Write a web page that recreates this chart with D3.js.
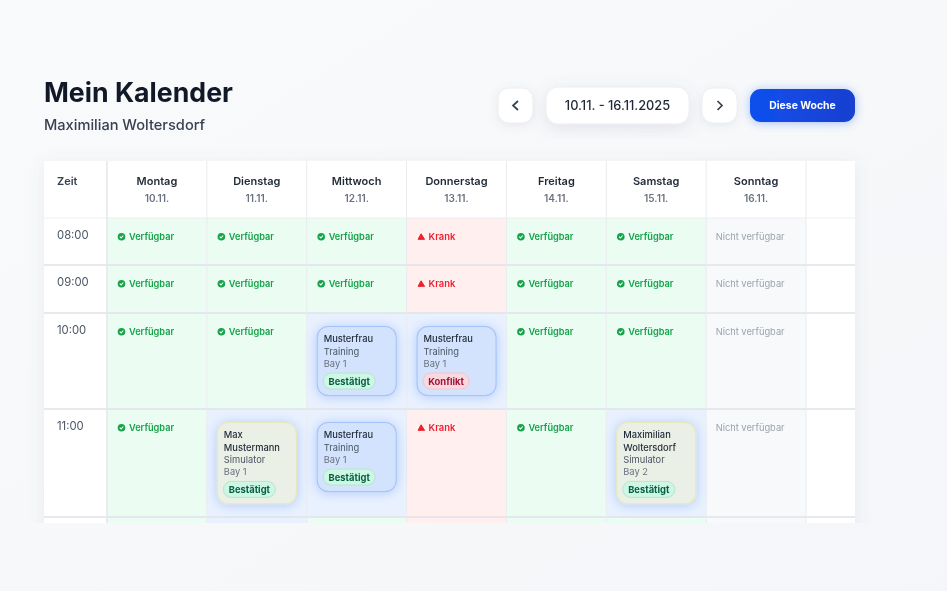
<!DOCTYPE html>
<html lang="de"><head><meta charset="utf-8">
<script src="https://cdn.jsdelivr.net/npm/d3@7"></script>
<style>
html,body{margin:0;padding:0;background:#f8f9fb;overflow:hidden}
svg{display:block;font-family:Inter,"Noto Sans",sans-serif;filter:blur(.25px)}
</style></head><body><svg id="c" width="947" height="591"></svg>
<script>
const title = "Mein Kalender";
const person = "Maximilian Woltersdorf";
const weekRange = "10.11. - 16.11.2025";
const todayLabel = "Diese Woche";
const timeHeader = "Zeit";
const days = ["Montag","Dienstag","Mittwoch","Donnerstag","Freitag","Samstag","Sonntag"];
const dates = ["10.11.","11.11.","12.11.","13.11.","14.11.","15.11.","16.11."];
const times = ["08:00","09:00","10:00","11:00","12:00"];
const A="Verfügbar", K="Krank", N="Nicht verfügbar", B="booked";
const row0800 = [A,A,A,K,A,A,N];
const row0900 = [A,A,A,K,A,A,N];
const row1000 = [A,A,B,B,A,A,N];
const row1100 = [A,B,B,K,A,B,N];
const row1200 = [A,B,A,K,A,A,N];
const rows = [row0800,row0900,row1000,row1100,row1200];
const bookings = [
 {day:"Mittwoch",time:"10:00",name:["Musterfrau"],type:"Training",bay:"Bay 1",state:"Bestätigt",kind:"blue"},
 {day:"Donnerstag",time:"10:00",name:["Musterfrau"],type:"Training",bay:"Bay 1",state:"Konflikt",kind:"blue"},
 {day:"Dienstag",time:"11:00",name:["Max","Mustermann"],type:"Simulator",bay:"Bay 1",state:"Bestätigt",kind:"olive"},
 {day:"Mittwoch",time:"11:00",name:["Musterfrau"],type:"Training",bay:"Bay 1",state:"Bestätigt",kind:"blue"},
 {day:"Samstag",time:"11:00",name:["Maximilian","Woltersdorf"],type:"Simulator",bay:"Bay 2",state:"Bestätigt",kind:"olive"}
];

const T={x0:44,x1:855,y0:161,y1:523,head:218,timeRight:107,dayRight:806};
const rowTops=[218,265,313,409,517], rowEnd=570;
const x=d3.scaleBand().domain(days).range([T.timeRight,T.dayRight]);
const y=d3.scaleOrdinal().domain(times).range(rowTops);
const rowH=t=>{const i=times.indexOf(t);return (rowTops[i+1]||rowEnd)-rowTops[i];};
const svg=d3.select("#c");
const defs=svg.append("defs");
const sh=(id,dy,b,c,o)=>{defs.append("filter").attr("id",id).attr("x","-40%").attr("y","-40%").attr("width","180%").attr("height","180%")
  .append("feDropShadow").attr("dx",0).attr("dy",dy).attr("stdDeviation",b).attr("flood-color",c).attr("flood-opacity",o);};
sh("sTable",3,8,"#64748b",.11);sh("sBtn",2,4,"#64748b",.12);sh("sDate",4,8,"#64748b",.16);sh("sBlue",1,5,"#2563eb",.4);sh("sCard",1,6,"#3b82f6",.36);
const g1=defs.append("linearGradient").attr("id","gBtn");g1.append("stop").attr("offset",0).attr("stop-color","#0f50ee");g1.append("stop").attr("offset",1).attr("stop-color","#1a3fcf");
const bg=defs.append("linearGradient").attr("id","gBg").attr("x2",1).attr("y2",1);bg.append("stop").attr("offset",0).attr("stop-color","#f9fafb");bg.append("stop").attr("offset",1).attr("stop-color","#f5f6f9");
defs.append("clipPath").attr("id","clipT").append("rect").attr("x",T.x0).attr("y",T.y0).attr("width",T.x1-T.x0).attr("height",T.y1-T.y0);
defs.append("clipPath").attr("id","clipS").append("rect").attr("x",0).attr("y",0).attr("width",947).attr("height",T.y1);
svg.append("rect").attr("width",947).attr("height",591).attr("fill","url(#gBg)");

const txt=(p,s,xx,yy,size,w,c,anchor)=>p.append("text").text(s).attr("x",xx).attr("y",yy).attr("font-size",size).attr("font-weight",w).attr("fill",c).attr("text-anchor",anchor||"start").attr("dominant-baseline","central");
txt(svg,title,44,92,26.7,700,"#111827");
txt(svg,person,44,124.5,14.6,500,"#374151");

// controls
const btn=(x0,y0,w,h,r,f)=>svg.append("rect").attr("x",x0).attr("y",y0).attr("width",w).attr("height",h).attr("rx",r).attr("fill",f||"#fff").attr("stroke",f?"none":"#eceef2").attr("filter",f?"url(#sBlue)":(h>36?"url(#sDate)":"url(#sBtn)"));
btn(498,88,35,35,11);btn(546,87,143,37,12);btn(702,88,35,35,11);btn(750,89,105,33,11,"url(#gBtn)");
const chev=d3.line();
svg.append("path").attr("d",chev([[518,101],[513,105.5],[518,110]])).attr("fill","none").attr("stroke","#374151").attr("stroke-width",1.7);
svg.append("path").attr("d",chev([[717.5,101],[722,105.5],[717.5,110]])).attr("fill","none").attr("stroke","#374151").attr("stroke-width",1.7);
txt(svg,weekRange,617.5,105.8,12.8,500,"#1f2937","middle");
txt(svg,todayLabel,802.5,105.5,10.4,700,"#fff","middle");

// table
svg.append("g").attr("clip-path","url(#clipS)").append("rect").attr("x",T.x0).attr("y",T.y0).attr("width",T.x1-T.x0).attr("height",T.y1-T.y0+20).attr("fill","#fff").attr("filter","url(#sTable)");
const t=svg.append("g").attr("clip-path","url(#clipT)");
const colors={[A]:"#ebfcf3",[K]:"#ffefef",[N]:"#f8f9fb",[B]:"#eaf1fe"};
const cells=times.flatMap((tm,i)=>days.map((d,j)=>({time:tm,day:d,status:rows[i][j]})));
t.selectAll("rect.cell").data(cells).join("rect").attr("class","cell")
  .attr("x",d=>x(d.day)).attr("y",d=>y(d.time)).attr("width",x.bandwidth()).attr("height",d=>rowH(d.time)).attr("fill",d=>colors[d.status]);
// grid lines
t.selectAll("line.h").data(times).join("line").attr("class","h").attr("x1",T.x0).attr("x2",T.x1).attr("y1",d=>y(d)).attr("y2",d=>y(d))
  .attr("stroke",(d,i)=>i?"#dfe2e8":"#eceef2").attr("stroke-width",(d,i)=>i?1.3:1);
t.selectAll("line.v").data(days.map(d=>x(d)+x.bandwidth()).concat([T.timeRight])).join("line").attr("class","v").attr("x1",d=>d).attr("x2",d=>d).attr("y1",T.y0).attr("y2",T.y1)
  .attr("stroke",d=>d===T.timeRight?"#e3e5ea":"#e9ebef").attr("stroke-width",d=>d===T.timeRight?1.4:1);
// header
txt(t,timeHeader,57,181.2,11,600,"#374151");
t.selectAll("text.day").data(days).join("text").attr("class","day").text(d=>d).attr("x",d=>x(d)+x.bandwidth()/2).attr("y",181.2).attr("text-anchor","middle").attr("dominant-baseline","central").attr("font-size",11).attr("font-weight",600).attr("fill","#1f2937");
t.selectAll("text.date").data(dates).join("text").attr("class","date").text(d=>d).attr("x",(d,i)=>x(days[i])+x.bandwidth()/2).attr("y",198).attr("text-anchor","middle").attr("dominant-baseline","central").attr("font-size",10).attr("font-weight",600).attr("fill","#6b7280");
t.selectAll("text.time").data(times).join("text").attr("class","time").text(d=>d).attr("x",57).attr("y",d=>y(d)+17.2).attr("dominant-baseline","central").attr("font-size",11.3).attr("font-weight",400).attr("fill","#4b5563");
// statuses
const st=t.selectAll("g.st").data(cells.filter(c=>c.status!==B)).join("g").attr("class","st").attr("transform",d=>`translate(${x(d.day)},${y(d.time)})`);
st.each(function(d){const g=d3.select(this);
  if(d.status===A){
    g.append("circle").attr("cx",14.5).attr("cy",18.7).attr("r",3.8).attr("fill","#16a34a");
    g.append("path").attr("d",chev([[12.8,18.7],[14.1,20],[16.3,17.5]])).attr("fill","none").attr("stroke","#fff").attr("stroke-width",1.1);
    txt(g,d.status,22,18.4,9.2,600,"#16a34a");
  } else if(d.status===K){
    g.append("path").attr("d",chev([[14.5,15.8],[18,21.3],[11.5,21.3]])+"Z").attr("fill","#ef1f2f").attr("stroke","#ef1f2f").attr("stroke-linejoin","round");
    txt(g,d.status,22,18.4,9.4,600,"#ef1f2f");
  } else txt(g,d.status,9.5,18.4,9.3,400,"#9ca3af");
});
// bookings
const pal={blue:{f:"#d3e2fd",s:"#a5c3fb"},olive:{f:"#ebf0e6",s:"#e8e9b8"}};
const badge={"Bestätigt":{f:"#cdf6e3",s:"#b4e6d0",c:"#065f46",w:52},"Konflikt":{f:"#fad9de",s:"#f3c4cc",c:"#9f1239",w:46}};
const cards=t.selectAll("g.card").data(bookings).join("g").attr("class","card").attr("transform",d=>`translate(${x(d.day)+10},${y(d.time)+13})`);
cards.each(function(d){const g=d3.select(this),n=d.name.length,h=70+(n-1)*12.3;
  g.append("rect").attr("x",.5).attr("y",.5).attr("width",79).attr("height",h-1).attr("rx",11).attr("fill",pal[d.kind].f).attr("stroke",pal[d.kind].s).attr("stroke-width",1.1).attr("filter","url(#sCard)");
  d.name.forEach((s,i)=>txt(g,s,7,12.6+i*12.4,9.3,500,"#1f2937"));
  const o=(n-1)*12.4;
  txt(g,d.type,7,25+o,9.3,400,"#4b5563");
  txt(g,d.bay,7,37.5+o,9.3,400,"#6b7280");
  const b=badge[d.state];
  g.append("rect").attr("x",6.5).attr("y",47+o).attr("width",b.w).attr("height",16).attr("rx",8).attr("fill",b.f).attr("stroke",b.s);
  txt(g,d.state,b.w/2+6.5,55.2+o,9.4,700,b.c,"middle");
});
</script></body></html>
